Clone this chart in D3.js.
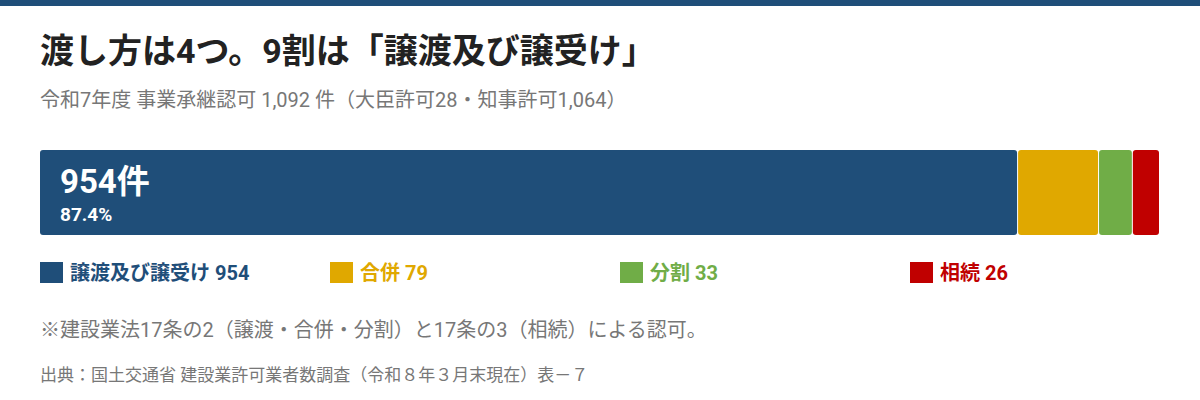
<html>
<head>
<meta charset="utf-8">
<style>
  body { margin: 0; background: #fff; }
  text { font-family: "Roboto", "Noto Sans CJK JP", sans-serif; }
</style>
</head>
<body>
<script src="https://cdn.jsdelivr.net/npm/d3@7/dist/d3.min.js"></script>
<script>
	var width = 1200;
	var height = 400;

	// データ
	var categories = ["譲渡及び譲受け", "合併", "分割", "相続"];
	var counts = [954, 79, 33, 26];
	var colors = ["#1f4e79", "#e0a800", "#70ad47", "#c00000"];
	var total = 1092;

	var svg = d3.select("body").append("svg")
		.attr("width", width)
		.attr("height", height);

	// 上の帯
	svg.append("rect").attr("x", 0).attr("y", 0).attr("width", width).attr("height", 6).attr("fill", "#1f4e79");

	svg.append("text").attr("x", 40).attr("y", 63)
		.style("font-size", "34px").style("font-weight", "bold").attr("fill", "#222")
		.text("渡し方は4つ。9割は「譲渡及び譲受け」");

	svg.append("text").attr("x", 40).attr("y", 107)
		.style("font-size", "20px").attr("fill", "#777")
		.text("令和7年度 事業承継認可 1,092 件（大臣許可28・知事許可1,064）");

	// 横積み棒
	var x = d3.scaleLinear().domain([0, total]).range([40, 1159]);
	var stack = [];
	var acc = 0;
	counts.forEach(function(v, i) {
		stack.push({ name: categories[i], v: v, x0: acc, x1: acc + v, color: colors[i] });
		acc += v;
	});

	svg.selectAll("rect.seg")
		.data(stack)
		.enter()
		.append("rect")
		.attr("class", "seg")
		.attr("x", function(d, i) { return x(d.x0) + (i > 0 ? 0.5 : 0); })
		.attr("width", function(d, i) { return x(d.x1) - x(d.x0) - (i > 0 ? 0.5 : 0) - (i < stack.length - 1 ? 0.5 : 0); })
		.attr("y", 150)
		.attr("height", 85)
		.attr("rx", 3)
		.attr("fill", function(d) { return d.color; });

	var first = stack[0];
	svg.append("text").attr("x", x(first.x0) + 20).attr("y", 193)
		.style("font-size", "33px").style("font-weight", "bold").attr("fill", "#fff")
		.text(first.v + "件");
	svg.append("text").attr("x", x(first.x0) + 20).attr("y", 221)
		.style("font-size", "19px").style("font-weight", "bold").attr("fill", "#fff")
		.text(d3.format(".1%")(first.v / total));

	// 凡例
	var lg = svg.selectAll("g.lg")
		.data(stack)
		.enter()
		.append("g")
		.attr("class", "lg")
		.attr("transform", function(d, i) { return "translate(" + (40 + i * 290) + ",262)"; });
	lg.append("rect").attr("width", 23).attr("height", 21).attr("fill", function(d) { return d.color; });
	lg.append("text").attr("x", 30).attr("y", 18)
		.style("font-size", "20px").style("font-weight", "bold")
		.attr("fill", function(d) { return d.color; })
		.text(function(d) { return d.name + " " + d.v; });

	svg.append("text").attr("x", 40).attr("y", 337)
		.style("font-size", "20px").attr("fill", "#777")
		.text("※建設業法17条の2（譲渡・合併・分割）と17条の3（相続）による認可。");

	svg.append("text").attr("x", 40).attr("y", 381)
		.style("font-size", "17px").attr("fill", "#777")
		.text("出典：国土交通省 建設業許可業者数調査（令和８年３月末現在）表－７");
</script>
</body>
</html>
